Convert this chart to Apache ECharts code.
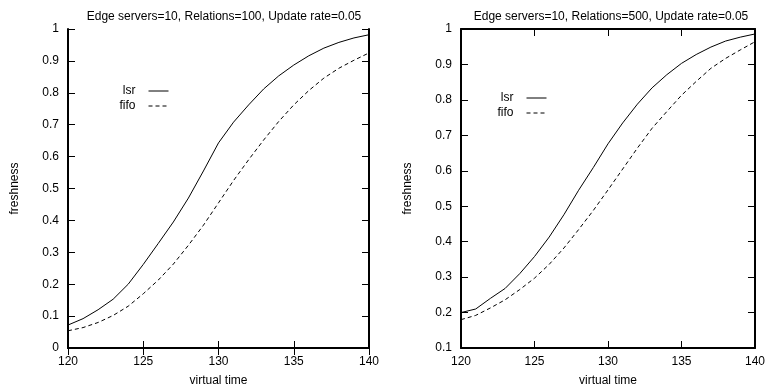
<!DOCTYPE html>
<html>
<head>
    <meta charset="utf-8">
    <title>freshness vs virtual time</title>
    <script src="https://cdn.jsdelivr.net/npm/echarts@6/dist/echarts.min.js"></script>
    <style>
        html, body { margin: 0; padding: 0; background: #fff; }
        #main { width: 768px; height: 392px; }
    </style>
</head>
<body>
<div id="main"></div>
<script>
    // virtual time 120..140
    var times = [120, 121, 122, 123, 124, 125, 126, 127, 128, 129, 130,
                 131, 132, 133, 134, 135, 136, 137, 138, 139, 140];

    // Relations=100
    var lsr100 = [0.072, 0.092, 0.12, 0.153, 0.2, 0.262, 0.328, 0.395, 0.47, 0.555, 0.643,
                  0.708, 0.762, 0.812, 0.853, 0.887, 0.916, 0.94, 0.958, 0.972, 0.982];
    var fifo100 = [0.054, 0.064, 0.08, 0.102, 0.131, 0.17, 0.213, 0.263, 0.322, 0.385, 0.455,
                   0.525, 0.59, 0.652, 0.71, 0.762, 0.807, 0.846, 0.877, 0.902, 0.925];

    // Relations=500
    var lsr500 = [0.2, 0.21, 0.24, 0.268, 0.31, 0.358, 0.413, 0.476, 0.545, 0.609, 0.676,
                  0.735, 0.788, 0.834, 0.871, 0.903, 0.928, 0.949, 0.966, 0.977, 0.986];
    var fifo500 = [0.18, 0.192, 0.213, 0.236, 0.265, 0.297, 0.336, 0.382, 0.434, 0.488, 0.546,
                   0.605, 0.664, 0.72, 0.767, 0.813, 0.852, 0.889, 0.917, 0.941, 0.964];

    var titles = ['Edge servers=10, Relations=100, Update rate=0.05',
                  'Edge servers=10, Relations=500, Update rate=0.05'];

    var FONT = '"Liberation Sans", Arial, sans-serif';

    function pairs(xs, ys) {
        return xs.map(function (x, i) { return [x, ys[i]]; });
    }

    var tick = {show: true, inside: true, length: 7, lineStyle: {color: '#000', width: 1}};
    var line = {show: true, lineStyle: {color: '#000', width: 2}};

    function xAx(gi, top) {
        return {
            type: 'value', gridIndex: gi, min: 120, max: 140, interval: 5,
            position: top ? 'top' : 'bottom',
            axisLine: line, axisTick: tick, splitLine: {show: false},
            axisLabel: {show: !top, color: '#000', fontSize: 12, fontFamily: FONT, margin: 8},
            name: top ? '' : 'virtual time', nameLocation: 'middle', nameGap: 27,
            nameTextStyle: {color: '#000', fontSize: 12, fontFamily: FONT}
        };
    }

    function yAx(gi, right, min) {
        return {
            type: 'value', gridIndex: gi, min: min, max: 1, interval: 0.1,
            position: right ? 'right' : 'left',
            axisLine: line, axisTick: tick, splitLine: {show: false},
            axisLabel: {show: !right, color: '#000', fontSize: 12, fontFamily: FONT, margin: 9},
            name: right ? '' : 'freshness', nameLocation: 'middle', nameGap: 47,
            nameTextStyle: {color: '#000', fontSize: 12, fontFamily: FONT}
        };
    }

    function ser(name, xi, yi, data, dashed) {
        return {
            name: name, type: 'line', xAxisIndex: xi, yAxisIndex: yi,
            data: pairs(times, data), showSymbol: false, symbol: 'none', smooth: false,
            lineStyle: {color: '#000', width: 1, type: dashed ? [4, 3] : 'solid'},
            itemStyle: {color: '#000'}, silent: true
        };
    }

    function legend(right, top) {
        return {
            orient: 'vertical', align: 'right', right: right, top: top,
            itemWidth: 20, itemHeight: 11, itemGap: 3, padding: 0,
            data: ['lsr', 'fifo'],
            itemStyle: {color: 'rgba(0,0,0,0)', borderColor: 'rgba(0,0,0,0)', borderWidth: 0},
            lineStyle: {width: 1},
            textStyle: {color: '#000', fontSize: 12, fontFamily: FONT, padding: [0, 8, 0, 0]}
        };
    }

    var chart = echarts.init(document.getElementById('main'), null, {renderer: 'canvas'});
    chart.setOption({
        animation: false,
        backgroundColor: '#fff',
        title: [
            {text: titles[0], left: 219, top: 6, textAlign: 'center',
             textStyle: {color: '#000', fontSize: 12, fontWeight: 'normal', fontFamily: FONT}},
            {text: titles[1], left: 606, top: 6, textAlign: 'center',
             textStyle: {color: '#000', fontSize: 12, fontWeight: 'normal', fontFamily: FONT}}
        ],
        legend: [legend(599, 85), legend(221, 92)],
        grid: [
            {left: 68, right: 399, top: 29, bottom: 41},
            {left: 461, right: 7, top: 29, bottom: 41}
        ],
        xAxis: [xAx(0, false), xAx(0, true), xAx(1, false), xAx(1, true)],
        yAxis: [yAx(0, false, 0), yAx(0, true, 0), yAx(1, false, 0.1), yAx(1, true, 0.1)],
        series: [
            ser('lsr', 0, 0, lsr100, false),
            ser('fifo', 0, 0, fifo100, true),
            ser('lsr', 2, 2, lsr500, false),
            ser('fifo', 2, 2, fifo500, true)
        ]
    });
</script>
</body>
</html>
